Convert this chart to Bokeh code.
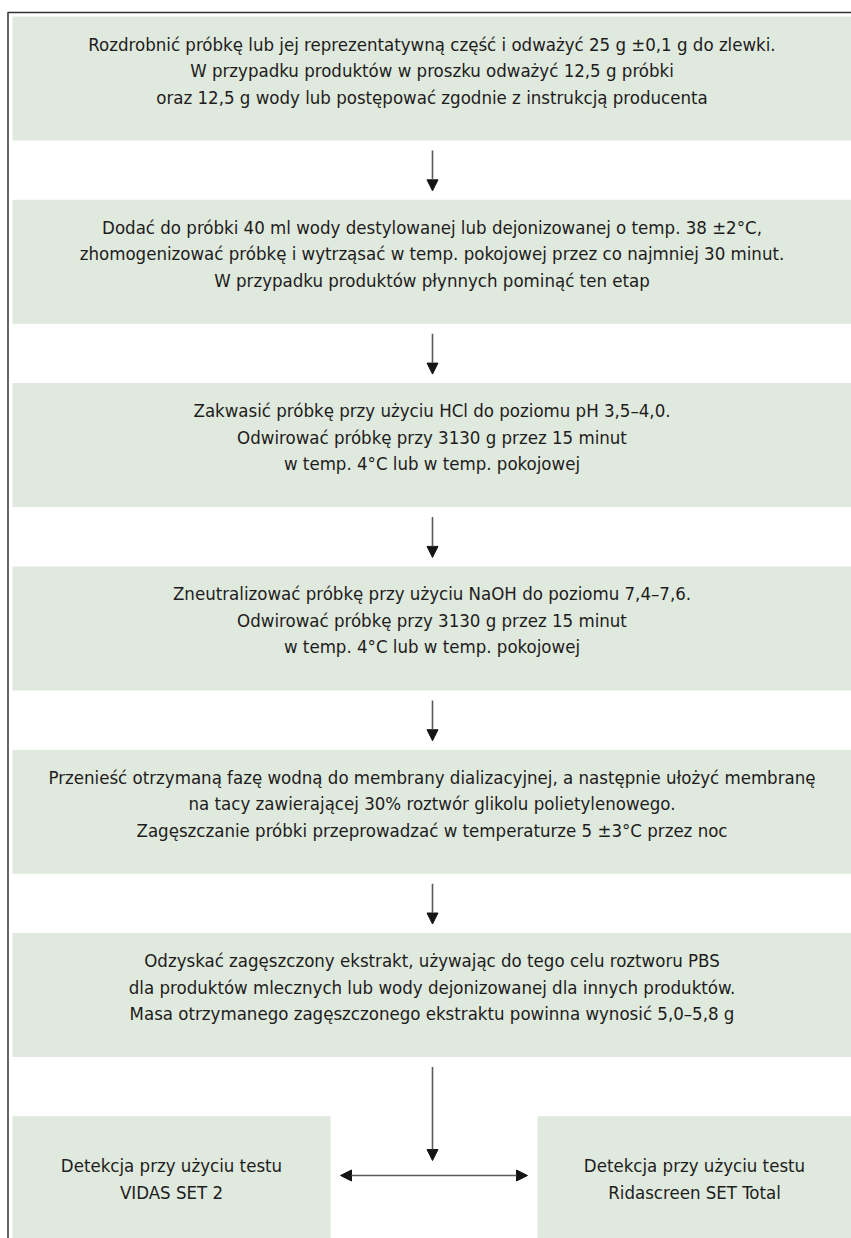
from bokeh.plotting import figure
from bokeh.models import Range1d, Arrow, NormalHead, ColumnDataSource
from bokeh.core.properties import value
from bokeh.embed import file_html
from bokeh.resources import INLINE

# ---- data: the texts of the flow chart ----
step1 = ["Rozdrobnić próbkę lub jej reprezentatywną część i odważyć 25 g ±0,1 g do zlewki.",
         "W przypadku produktów w proszku odważyć 12,5 g próbki",
         "oraz 12,5 g wody lub postępować zgodnie z instrukcją producenta"]
step2 = ["Dodać do próbki 40 ml wody destylowanej lub dejonizowanej o temp. 38 ±2°C,",
         "zhomogenizować próbkę i wytrząsać w temp. pokojowej przez co najmniej 30 minut.",
         "W przypadku produktów płynnych pominąć ten etap"]
step3 = ["Zakwasić próbkę przy użyciu HCl do poziomu pH 3,5–4,0.",
         "Odwirować próbkę przy 3130 g przez 15 minut",
         "w temp. 4°C lub w temp. pokojowej"]
step4 = ["Zneutralizować próbkę przy użyciu NaOH do poziomu 7,4–7,6.",
         "Odwirować próbkę przy 3130 g przez 15 minut",
         "w temp. 4°C lub w temp. pokojowej"]
step5 = ["Przenieść otrzymaną fazę wodną do membrany dializacyjnej, a następnie ułożyć membranę",
         "na tacy zawierającej 30% roztwór glikolu polietylenowego.",
         "Zagęszczanie próbki przeprowadzać w temperaturze 5 ±3°C przez noc"]
step6 = ["Odzyskać zagęszczony ekstrakt, używając do tego celu roztworu PBS",
         "dla produktów mlecznych lub wody dejonizowanej dla innych produktów.",
         "Masa otrzymanego zagęszczonego ekstraktu powinna wynosić 5,0–5,8 g"]
detect_left = ["Detekcja przy użyciu testu", "VIDAS SET 2"]
detect_right = ["Detekcja przy użyciu testu", "Ridascreen SET Total"]

steps = [step1, step2, step3, step4, step5, step6]

# ---- styles / layout ----
FILL = "#dfe9dd"
TXT = "#1e1c1c"
FONT = value("DejaVu Sans Condensed")
FSIZE = "18.5px"
LINE_H = 26.5

W, H = 851, 1238
p = figure(width=W, height=H, x_range=Range1d(0, W), y_range=Range1d(H, 0),
           output_backend="svg", toolbar_location=None, min_border=0,
           outline_line_color=None, background_fill_color="white")
p.axis.visible = False
p.grid.visible = False

period = 183.3
box_h = 124
top0 = 16
xl, xr = 12, 851

tops = [top0 + i * period for i in range(len(steps))]
p.quad(left=[xl] * len(steps), right=[xr] * len(steps), top=tops,
       bottom=[t + box_h for t in tops], fill_color=FILL, line_color=None)

# bottom boxes
btop = top0 + 6 * period
p.quad(left=[xl, 537], right=[330, xr], top=[btop, btop], bottom=[H, H],
       fill_color=FILL, line_color=None)

# texts
xs, ys, ts = [], [], []
cx = (xl + xr) / 2
for t, lines in zip(tops, steps):
    c = t + 54
    n = len(lines)
    for i, s in enumerate(lines):
        xs.append(cx)
        ys.append(c + (i - (n - 1) / 2) * LINE_H)
        ts.append(s)
bc = btop + 62.5
for bx, lines in [((xl + 330) / 2, detect_left), ((537 + xr) / 2, detect_right)]:
    for i, s in enumerate(lines):
        xs.append(bx)
        ys.append(bc + (i - 0.5) * LINE_H)
        ts.append(s)
src = ColumnDataSource(dict(x=xs, y=ys, text=ts))
p.text(x="x", y="y", text="text", source=src, text_align="center",
       text_baseline="middle", text_font=FONT, text_font_size=FSIZE, text_color=TXT)

# arrows
ax = 432
def head():
    return NormalHead(size=11, fill_color="#151515", line_color="#151515", line_width=1)
for t in tops[:-1]:
    p.add_layout(Arrow(end=head(), x_start=ax, y_start=t + box_h + 10, x_end=ax,
                       y_end=t + period - 9, line_color="#5a5a5a", line_width=1.6))
p.add_layout(Arrow(end=head(), x_start=ax, y_start=tops[-1] + box_h + 10, x_end=ax,
                   y_end=1160, line_color="#5a5a5a", line_width=1.6))
p.add_layout(Arrow(start=head(), end=head(), x_start=340, y_start=1175, x_end=527,
                   y_end=1175, line_color="#5a5a5a", line_width=1.6))

# frame lines (top and left)
p.segment(x0=[7, 7.5], y0=[12, 12], x1=[W, 7.5], y1=[12, H], line_color="#333333",
          line_width=1.5)

open("out.html", "w").write(file_html(p, INLINE))
